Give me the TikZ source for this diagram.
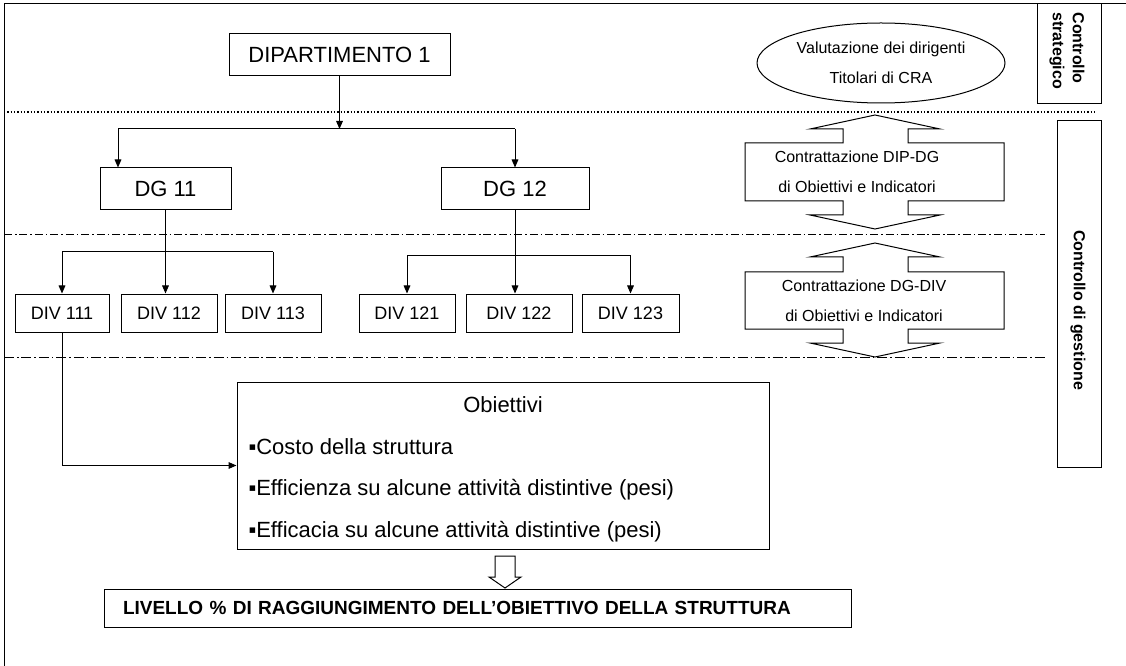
\documentclass[tikz,border=0pt]{standalone}
\usepackage{fontspec}
\setmainfont{Liberation Sans}
\usetikzlibrary{arrows.meta}
\usetikzlibrary{shapes.geometric}
\tikzset{every picture/.style={line width=0.75pt}}
\tikzset{
  boxnode/.style={draw, inner sep=0pt, align=center},
  boxsize/.style 2 args={minimum width=#1*0.75pt, minimum height=#2*0.75pt},
  tip/.style={-{Triangle[length=6pt,width=5pt]}},
  bigtext/.style={font=\fontsize{16.5}{20}\selectfont},
  divtext/.style={font=\fontsize{13.5}{16}\selectfont},
  smalltext/.style={font=\fontsize{12}{22.5}\selectfont, align=center},
  sidetext/.style={font=\bfseries\fontsize{12}{15}\selectfont, rotate=-90, inner sep=0pt},
}

\begin{document}
\begin{tikzpicture}[x=0.75pt,y=0.75pt,yscale=-1,xscale=1]
\useasboundingbox (0,0) rectangle (1126,666);

%Straight Lines: frame
\draw (4,666) -- (4,4) -- (1126,4);
%Straight Lines: level separators
\draw [line width=1pt, dash pattern=on 1.1pt off 1.4pt] (4,112) -- (1097,112);
\draw [dash pattern=on 6pt off 2.2pt on 1.2pt off 2.2pt] (4,234.5) -- (1045,234.5);
\draw [dash pattern=on 7.5pt off 2.2pt on 1.2pt off 2.2pt] (4,357) -- (1045,357);

%Shape: Rectangle
\node [boxnode, bigtext, boxsize={221}{42}] (dip) at (339.5,55) {DIPARTIMENTO 1};
\node [boxnode, bigtext, boxsize={131}{42}] (dg11) at (165.5,189) {DG 11};
\node [boxnode, bigtext, boxsize={148}{42}] (dg12) at (515,189) {DG 12};
\node [boxnode, divtext, boxsize={94}{38}] (div111) at (62,313) {DIV 111};
\node [boxnode, divtext, boxsize={96}{38}] (div112) at (169,313) {DIV 112};
\node [boxnode, divtext, boxsize={96}{38}] (div113) at (273,313) {DIV 113};
\node [boxnode, divtext, boxsize={96}{38}] (div121) at (407,313) {DIV 121};
\node [boxnode, divtext, boxsize={106}{38}] (div122) at (519,313) {DIV 122};
\node [boxnode, divtext, boxsize={97}{38}] (div123) at (630.5,313) {DIV 123};

%Shape: Ellipse
\node [draw, ellipse, inner sep=0pt, boxsize={248}{80}, smalltext] (valut) at (881,63) {Valutazione dei dirigenti\\Titolari di CRA};

%Shape: Rectangle (side labels)
\node [boxnode, boxsize={64}{100}] (strat) at (1069,54) {};
\node [sidetext, anchor=west, align=left] (strattxt) at (1067,12) {Controllo\\strategico};
\node [boxnode, boxsize={44}{346}] (gest) at (1079,294) {};
\node [sidetext] (gesttxt) at (1078,310) {Controllo di gestione};

%Shape: Up Down Arrow Callout
\draw (875,115) -- (940,129) -- (908,129) -- (908,143) -- (1004,143) -- (1004,201) -- (908,201) -- (908,215) -- (940,215) -- (875,229) -- (810,215) -- (843,215) -- (843,201) -- (745,201) -- (745,143) -- (843,143) -- (843,129) -- (810,129) -- cycle;
\draw (875,243) -- (940,257) -- (908,257) -- (908,272) -- (1004,272) -- (1004,329) -- (908,329) -- (908,343) -- (940,343) -- (875,357) -- (810,343) -- (843,343) -- (843,329) -- (745,329) -- (745,272) -- (843,272) -- (843,257) -- (810,257) -- cycle;
% Text Node
\node [smalltext] (dipdg) at (857,172) {Contrattazione DIP-DG\\di Obiettivi e Indicatori};
% Text Node
\node [smalltext] (dgdiv) at (864,300.5) {Contrattazione DG-DIV\\di Obiettivi e Indicatori};

%Shape: Rectangle (objectives)
\node [boxnode, boxsize={532}{167}] (obj) at (503,465.5) {};
% Text Node
\node [bigtext] (objtitle) at (503,405) {Obiettivi};
\node [bigtext, anchor=west, inner sep=0pt] (obja) at (248,447) {▪Costo della struttura};
\node [bigtext, anchor=west, inner sep=0pt] (objb) at (248,490) {▪Efficienza su alcune attività distintive (pesi)};
\node [bigtext, anchor=west, inner sep=0pt] (objc) at (248,532) {▪Efficacia su alcune attività distintive (pesi)};

%Shape: Rectangle (result)
\node [draw, font=\bfseries\fontsize{14.25}{17}\selectfont, align=left, text width=709*0.75pt, inner xsep=14.25pt, inner ysep=0pt, minimum height=38*0.75pt] (liv) at (477.5,608) {LIVELLO \% DI RAGGIUNGIMENTO DELL’OBIETTIVO DELLA STRUTTURA};

%Shape: Down Arrow
\draw (495,556) -- (515,556) -- (515,577) -- (521,577) -- (505,588) -- (489,577) -- (495,577) -- cycle;

%Straight Lines: DIPARTIMENTO -> DG
\coordinate (bar1l) at (118,129);
\coordinate (bar1r) at (515,129);
\draw [tip] (dip.south) -- (dip.south |- bar1l);
\draw (bar1l) -- (bar1r);
\draw [tip] (bar1l) -- (bar1l |- dg11.north);
\draw [tip] (bar1r) -- (dg12.north);

%Straight Lines: DG 11 -> DIV
\coordinate (bar2l) at (62,252);
\coordinate (bar2r) at (273,252);
\draw (bar2l) -- (bar2r);
\draw [tip] (bar2l) -- (div111.north);
\draw [tip] (bar2r) -- (div113.north);
\draw [tip] (dg11.south) -- (dg11.south |- div112.north);

%Straight Lines: DG 12 -> DIV
\coordinate (bar3l) at (407,256);
\coordinate (bar3r) at (630.5,256);
\draw (bar3l) -- (bar3r);
\draw [tip] (bar3l) -- (div121.north);
\draw [tip] (bar3r) -- (div123.north);
\draw [tip] (dg12.south) -- (dg12.south |- div122.north);

%Straight Lines: DIV 111 -> Obiettivi
\draw [tip] (div111.south) |- (obj.west);

\end{tikzpicture}
\end{document}
